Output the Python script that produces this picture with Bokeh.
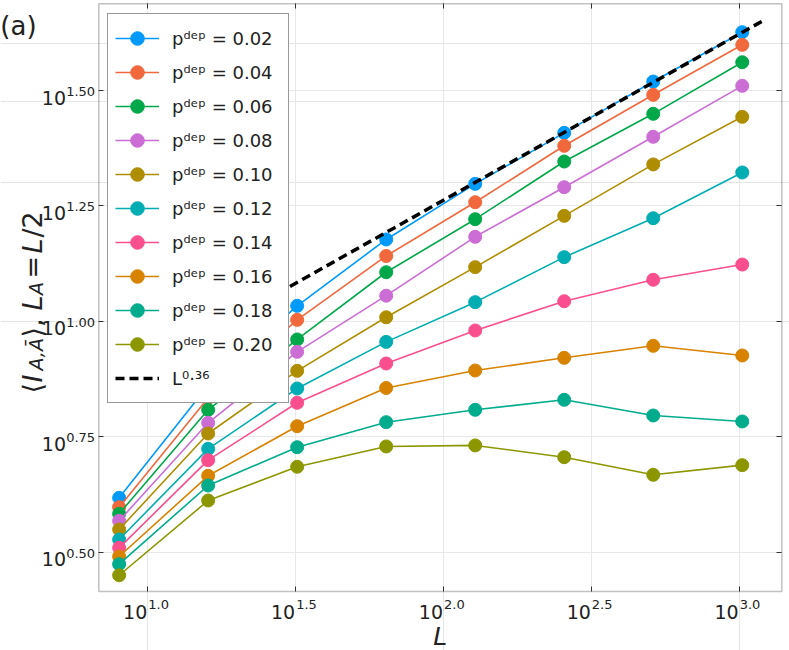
from bokeh.plotting import figure
from bokeh.models import (Range1d, FixedTicker, Label, Legend, LegendItem,
                          CustomJSTickFormatter, LogAxis, Grid, BoxAnnotation)
from bokeh.embed import file_html
from bokeh.resources import INLINE

# ---------------- data ----------------
L_sizes = [8, 16, 32, 64, 128, 256, 512, 1024]
p_labels = ["0.02", "0.04", "0.06", "0.08", "0.10",
            "0.12", "0.14", "0.16", "0.18", "0.20"]
I_002 = [4.144, 7.26, 10.80, 15.04, 19.85, 25.60, 33.07, 42.30]
I_004 = [3.955, 6.82, 10.07, 13.85, 18.11, 24.00, 30.95, 39.72]
I_006 = [3.827, 6.429, 9.131, 12.77, 16.64, 22.19, 28.15, 36.41]
I_008 = [3.695, 6.026, 8.586, 11.36, 15.24, 19.52, 25.10, 32.37]
I_010 = [3.538, 5.712, 7.809, 10.20, 13.10, 16.92, 21.87, 27.73]
I_012 = [3.366, 5.291, 7.150, 9.022, 11.00, 13.77, 16.72, 21.01]
I_014 = [3.229, 5.000, 6.658, 8.100, 9.550, 11.05, 12.30, 13.27]
I_016 = [3.092, 4.625, 5.924, 7.168, 7.821, 8.333, 8.847, 8.430]
I_018 = [2.976, 4.407, 5.334, 6.044, 6.429, 6.758, 6.249, 6.065]
I_020 = [2.816, 4.089, 4.838, 5.354, 5.382, 5.075, 4.648, 4.877]
series = [I_002, I_004, I_006, I_008, I_010, I_012, I_014, I_016, I_018, I_020]
colors = ["#009AFA", "#F0683C", "#00A84A", "#CC6DD6", "#AF8D00",
          "#00ADB2", "#FA4F8E", "#D88300", "#00AC8C", "#8C9700"]

# power-law guide L^0.36 (end points)
fit_L = [8, 1200]
fit_I = [7.37, 44.74]

x_tick_exps = ["1.0", "1.5", "2.0", "2.5", "3.0"]
y_tick_exps = ["0.50", "0.75", "1.00", "1.25", "1.50"]

# ---------------- geometry ----------------
W, H = 789, 650
# canvas (frame) range and the plotting box inside it (log10 units)
CX0, CX1 = 0.50186, 3.17010
CY0, CY1 = 0.28657, 1.69502
BX0, BX1 = 0.83429, 3.14407
BY0, BY1 = 0.41441, 1.68787
x_lo, x_hi = 10 ** BX0, 10 ** BX1
y_lo, y_hi = 10 ** BY0, 10 ** BY1

FONT = "DejaVu Sans"
TXT = "#222222"
AX = "#333333"

p = figure(x_axis_type="log", y_axis_type="log",
           x_axis_location=None, y_axis_location=None,
           x_range=Range1d(10 ** CX0, 10 ** CX1),
           y_range=Range1d(10 ** CY0, 10 ** CY1),
           width=W, height=H, min_border=0,
           output_backend="svg", toolbar_location=None,
           background_fill_color="white", border_fill_color="white")
p.outline_line_color = None

xt = [10 ** float(e) for e in x_tick_exps]
yt = [10 ** float(e) for e in y_tick_exps]

# grid
has_cross = "cross_bounds" in Grid.properties()
gx = Grid(dimension=0, ticker=FixedTicker(ticks=xt, minor_ticks=[]),
          bounds=(x_lo, x_hi), grid_line_color="#e8e8e8", grid_line_width=1)
gy = Grid(dimension=1, ticker=FixedTicker(ticks=yt, minor_ticks=[]),
          bounds=(y_lo, y_hi), grid_line_color="#e8e8e8", grid_line_width=1)
if has_cross:
    gx.cross_bounds = (y_lo, y_hi)
    gy.cross_bounds = (x_lo, x_hi)
    p.add_layout(gx)
    p.add_layout(gy)
else:
    p.segment(x0=xt, y0=[y_lo] * len(xt), x1=xt, y1=[y_hi] * len(xt),
              line_color="#e8e8e8", line_width=1)
    p.segment(x0=[x_lo] * len(yt), y0=yt, x1=[x_hi] * len(yt), y1=yt,
              line_color="#e8e8e8", line_width=1)


def make_axis(ticks, loc, bounds):
    ax = LogAxis(ticker=FixedTicker(ticks=ticks, minor_ticks=[]),
                 fixed_location=loc, bounds=bounds)
    ax.major_tick_in = 5
    ax.major_tick_out = 0
    ax.minor_tick_in = 0
    ax.minor_tick_out = 0
    ax.axis_line_color = None
    ax.major_tick_line_color = AX
    ax.major_tick_line_width = 1
    ax.formatter = CustomJSTickFormatter(code="return ''")
    ax.major_label_standoff = 0
    return ax


p.add_layout(make_axis(xt, y_lo, (x_lo, x_hi)), "below")
p.add_layout(make_axis(yt, x_lo, (y_lo, y_hi)), "left")
p.add_layout(make_axis(xt, y_hi, (x_lo, x_hi)), "above")
p.add_layout(make_axis(yt, x_hi, (y_lo, y_hi)), "right")

# data
items = []
for vals, col, lab in zip(series, colors, p_labels):
    rl = p.line(L_sizes, vals, line_color=col, line_width=1.6)
    rs = p.scatter(L_sizes, vals, size=13, fill_color=col, line_color=col,
                   line_width=1)
    items.append(LegendItem(label="pᵈᵉᵖ = " + lab, renderers=[rl, rs]))

rf = p.line(fit_L, fit_I, line_color="black", line_width=3.5, line_dash="9 5")
items.append(LegendItem(label="L⁰·³⁶", renderers=[rf]))

# plotting box
p.add_layout(BoxAnnotation(left=x_lo, right=x_hi, bottom=y_lo, top=y_hi,
                           fill_alpha=0, line_color=AX, line_width=1.5))

legend = Legend(items=items, location=(107, 247), padding=7, spacing=0,
                glyph_width=44, glyph_height=34, label_height=34,
                label_width=109, label_standoff=13,
                label_text_font=FONT, label_text_font_size="18px",
                label_text_color=TXT, label_text_baseline="middle",
                border_line_color=AX, border_line_width=1.5,
                background_fill_color="white", background_fill_alpha=1,
                margin=0)
p.add_layout(legend)


def lab(text, x, y, xo, yo, size, align="left", style="normal", angle=0.0):
    p.add_layout(Label(x=x, y=y, x_offset=xo, y_offset=yo, text=text,
                       text_font=FONT, text_font_size=f"{size}px",
                       text_font_style=style, text_align=align,
                       text_baseline="alphabetic", text_color=TXT,
                       angle=angle))


# tick labels 10^{e}
for v, e in zip(xt, x_tick_exps):
    lab("10", v, y_lo, -0.5, -20.7, 19, align="right")
    lab(e, v, y_lo, 0.5, -13.3, 13, align="left")
for v, e in zip(yt, y_tick_exps):
    lab("10", x_lo, v, -32.8, -7.2, 19, align="right")
    lab(e, x_lo, v, -32.6, -1.0, 13, align="left")

# x axis label
lab("L", (x_lo * x_hi) ** 0.5, y_lo, 0, -45, 25, align="center", style="italic")

# y axis label (rotated), pieces placed along the text
ang = 1.5707963
main, sub = 27, 19
xm, xs = -66.0, -63.0
ypieces = [("⟨", 393, main, "normal", xm), ("I", 382, main, "italic", xm),
           ("A,Ā", 370, sub, "italic", xs), ("⟩,", 337, main, "normal", xm),
           ("L", 310, main, "italic", xm), ("A", 294.5, sub, "italic", xs),
           ("=", 278, main, "normal", xm), ("L", 253, main, "italic", xm),
           ("/2", 237, main, "normal", xm)]
for t, fy, sz, st, xo in ypieces:
    lab(t, x_lo, y_lo, xo, 591 - fy, sz, style=st, angle=ang)

# panel tag
lab("(a)", x_lo, y_hi, -98.5, -22.7, 26)

open("out.html", "w").write(file_html(p, INLINE))
